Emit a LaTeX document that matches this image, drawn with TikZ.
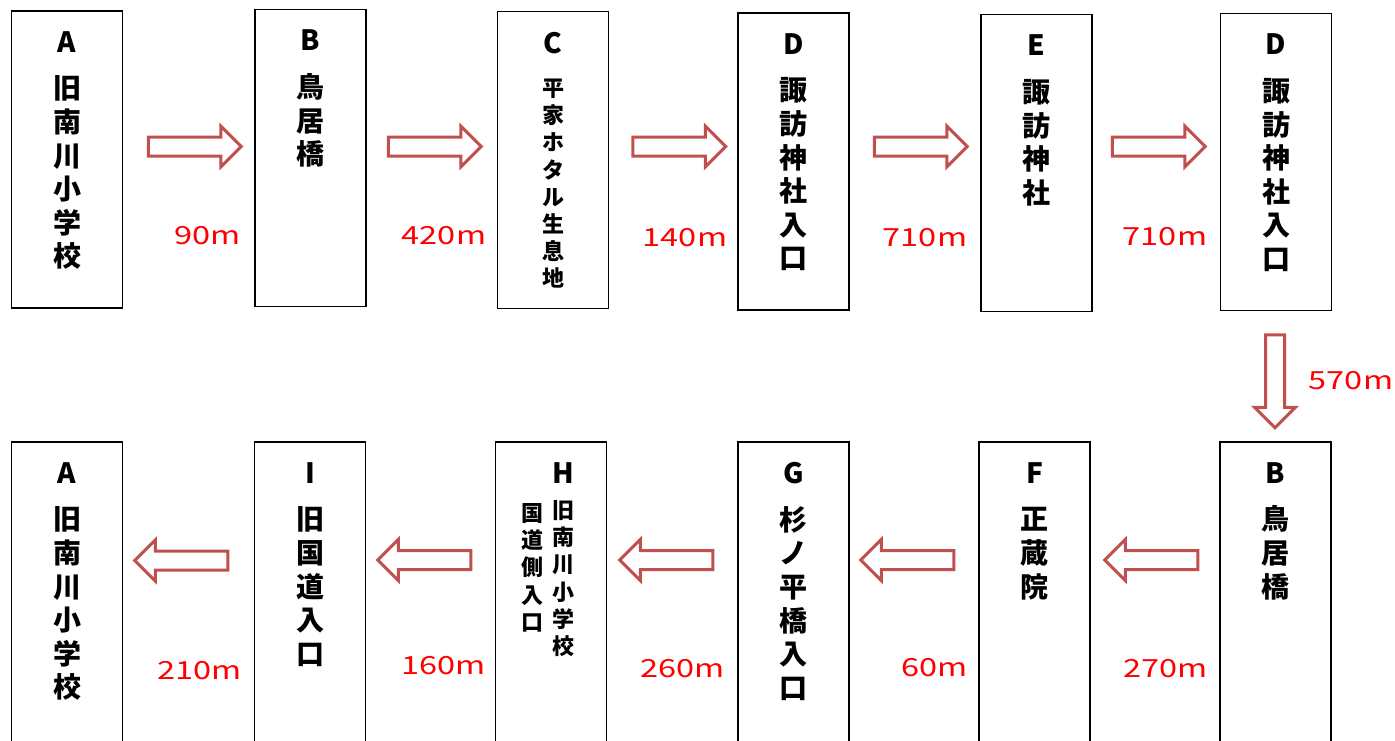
\documentclass[tikz,border=0pt]{standalone}
\usepackage{fontspec}
\setmainfont{Noto Sans CJK JP}
\newfontfamily\distfont{Noto Sans CJK JP}[FakeStretch=1.3]
\usetikzlibrary{positioning,shapes.arrows}
\definecolor{pfeilrot}{HTML}{C0504D}
\tikzset{
  kasten/.style={draw, line width=0.9pt, minimum width=55.5pt, minimum height=148.5pt, inner sep=0pt},
  schild/.style={align=center, inner sep=0pt, font=\fontsize{14}{16.8}\selectfont\bfseries},
  klein/.style={align=center, inner sep=0pt, font=\fontsize{11}{13.6}\selectfont\bfseries},
  pfeil/.style={single arrow, draw=pfeilrot, fill=white, line width=1.5pt, minimum height=46.5pt,
    inner xsep=0pt, inner ysep=4pt, single arrow head extend=5.5pt, single arrow head indent=0pt},
  pfeil runter/.style={pfeil, shape border rotate=270, inner xsep=4pt, inner ysep=0pt},
  weg/.style={text=red, inner sep=0pt, font=\distfont\fontsize{12.5}{15}\selectfont},
}
\newcommand{\gross}{\fontsize{14}{16.8}\selectfont}

\begin{document}
\begin{tikzpicture}[x=0.5pt, y=-0.5pt]
	\useasboundingbox (0,0) rectangle (1395,740);
	\clip (0,0) rectangle (1395,740);
	% Obere Reihe
	\node[kasten] (a1) at (67,159.5) {};
	\node[kasten] (b1) at (310.5,158) {};
	\node[kasten] (c1) at (553,160) {};
	\node[kasten] (d1) at (793.5,161.5) {};
	\node[kasten] (e1) at (1036.5,163) {};
	\node[kasten] (d2) at (1276,162) {};
	\node[schild, below=10.5pt of a1.north] (ta1) {A\\[6.5pt]旧\\南\\川\\小\\学\\校};
	\node[schild, below=10.5pt of b1.north] (tb1) {B\\[6.5pt]鳥\\居\\橋};
	\node[klein, below=10.5pt of c1.north] (tc1) {{\gross C}\\[8pt]平\\家\\ホ\\タ\\ル\\生\\息\\地};
	\node[schild, below=10.5pt of d1.north] (td1) {D\\[6.5pt]諏\\訪\\神\\社\\入\\口};
	\node[schild, below=10.5pt of e1.north] (te1) {E\\[6.5pt]諏\\訪\\神\\社};
	\node[schild, below=10.5pt of d2.north] (td2) {D\\[6.5pt]諏\\訪\\神\\社\\入\\口};
	% Untere Reihe
	\node[kasten, minimum height=155pt] (a2) at (67,597) {};
	\node[kasten, minimum height=155pt] (i) at (310,597) {};
	\node[kasten, minimum height=155pt] (h) at (551,597) {};
	\node[kasten, minimum height=155pt] (g) at (793.5,597) {};
	\node[kasten, minimum height=155pt] (f) at (1034.5,597) {};
	\node[kasten, minimum height=155pt] (b2) at (1275.5,597) {};
	\node[schild, below=10.5pt of a2.north] (ta2) {A\\[6.5pt]旧\\南\\川\\小\\学\\校};
	\node[schild, below=10.5pt of i.north] (ti) {I\\[6.5pt]旧\\国\\道\\入\\口};
	\node[klein, below=10.5pt of h.north, xshift=6pt] (th) {{\gross H}\\[4pt]旧\\南\\川\\小\\学\\校};
	\node[klein, below=31pt of h.north, xshift=-9.5pt] (th2) {国\\道\\側\\入\\口};
	\node[schild, below=10.5pt of g.north] (tg) {G\\[6.5pt]杉\\ノ\\平\\橋\\入\\口};
	\node[schild, below=10.5pt of f.north] (tf) {F\\[6.5pt]正\\蔵\\院};
	\node[schild, below=10.5pt of b2.north] (tb2) {B\\[6.5pt]鳥\\居\\橋};
	% Pfeile
	\node[pfeil] (p1) at (190,146.5) {};
	\node[pfeil] (p2) at (430,146.5) {};
	\node[pfeil] (p3) at (674.5,146.5) {};
	\node[pfeil] (p4) at (916,146.5) {};
	\node[pfeil] (p5) at (1154,146.5) {};
	\node[pfeil runter] (p6) at (1275,376.5) {};
	\node[pfeil, shape border rotate=180] (p7) at (1156,560) {};
	\node[pfeil, shape border rotate=180] (p8) at (912,560) {};
	\node[pfeil, shape border rotate=180] (p9) at (671,560) {};
	\node[pfeil, shape border rotate=180] (p10) at (429,560) {};
	\node[pfeil, shape border rotate=180] (p11) at (186,560.5) {};
	% Entfernungen
	\node[weg] (w1) at (208,236) {90m};
	\node[weg] (w2) at (444,236) {420m};
	\node[weg] (w3) at (685,238) {140m};
	\node[weg] (w4) at (925,238) {710m};
	\node[weg] (w5) at (1165,237) {710m};
	\node[weg] (w6) at (1351,381) {570m};
	\node[weg] (w7) at (1165.5,669) {270m};
	\node[weg] (w8) at (934.5,668) {60m};
	\node[weg] (w9) at (682.5,669) {260m};
	\node[weg] (w10) at (443.5,666) {160m};
	\node[weg] (w11) at (199.5,671) {210m};
\end{tikzpicture}
\end{document}
